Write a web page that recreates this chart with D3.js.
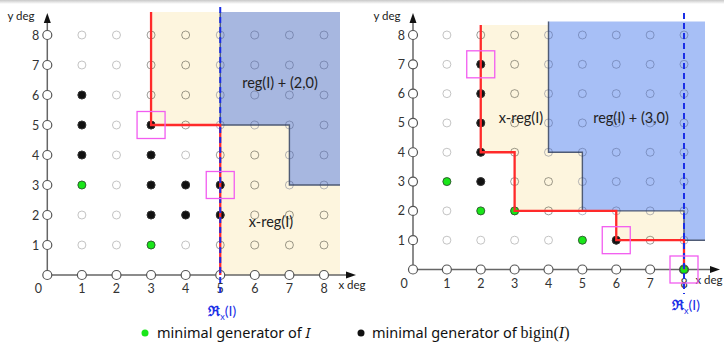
<!DOCTYPE html>
<html>
<head>
<meta charset="utf-8">
<script src="https://d3js.org/d3.v7.min.js"></script>
<style>
  body { margin: 0; background: #fff; }
  svg { display: block; font-family: Lato, "Noto Sans", sans-serif; }
</style>
</head>
<body>
<div id="chart"></div>
<script>
// tick labels of both degree axes
var degTicks = [0, 1, 2, 3, 4, 5, 6, 7, 8];

// left panel: ideal I, shift (2,0)
var leftGreen = [[1, 3], [3, 1]];
var leftBlack = [[1, 6], [1, 5], [1, 4], [3, 5], [3, 4], [3, 3], [3, 2], [4, 3], [4, 2], [5, 3], [5, 2]];
var leftRed = [[3, 5], [5, 5], [5, 0]];          // x-reg staircase
var leftBlue = [[5, 5], [7, 5], [7, 3]];         // reg(I)+(2,0) staircase
var leftBoxes = [[3, 5], [5, 3]];
var leftRx = 5;

// right panel: shift (3,0)
var rightGreen = [[1, 3], [2, 2], [3, 2], [5, 1], [8, 0]];
var rightBlack = [[2, 7], [2, 6], [2, 5], [2, 4], [2, 3], [6, 1]];
var rightRed = [[2, 4], [3, 4], [3, 2], [6, 2], [6, 1], [8, 1], [8, 0]];
var rightBlue = [[4, 4], [5, 4], [5, 2], [8, 2], [8, 1]];
var rightBoxes = [[2, 7], [6, 1], [8, 0]];
var rightRx = 8;

var W = 724, H = 343;
var svg = d3.select("#chart").append("svg").attr("width", W).attr("height", H);

// faint grey strip at the very top
var grad = svg.append("defs").append("linearGradient").attr("id", "topg")
  .attr("x1", 0).attr("x2", 0).attr("y1", 0).attr("y2", 1);
grad.append("stop").attr("offset", "0%").attr("stop-color", "#c8c8c8");
grad.append("stop").attr("offset", "100%").attr("stop-color", "#fff");
svg.append("rect").attr("width", W).attr("height", 4).attr("fill", "url(#topg)");

var panels = [
  { x: d3.scaleLinear().domain([0, 8]).range([47.3, 324]),
    y: d3.scaleLinear().domain([0, 8]).range([275, 35]),
    green: leftGreen, black: leftBlack, red: leftRed, blue: leftBlue, boxes: leftBoxes, rx: leftRx,
    yellowRight: 340, blueRight: 340, redTop: 12, blueTop: 12, yellowTop: 12, dashTop: 7,
    blueFill: "#a7b7e0", arrowX: 356, regLabel: "reg(I) + (2,0)", regPos: [280, 83], xregPos: [271, 222],
    ydegX: 21, xdegPos: [352, 289], rxLabelY: 316 },
  { x: d3.scaleLinear().domain([0, 8]).range([413, 684]),
    y: d3.scaleLinear().domain([0, 8]).range([269.5, 35]),
    green: rightGreen, black: rightBlack, red: rightRed, blue: rightBlue, boxes: rightBoxes, rx: rightRx,
    yellowRight: 684, blueRight: 705, redTop: 25, blueTop: 21.5, yellowTop: 25, dashTop: 13,
    blueFill: "#a7bff6", arrowX: 720, regLabel: "reg(I) + (3,0)", regPos: [631, 118], xregPos: [521, 118],
    ydegX: 387, xdegPos: [709, 284], rxLabelY: 310 }
];

function stairPoly(p, stairs, top, right) {
  var pts = [[p.x(stairs[0][0]), top]];
  stairs.forEach(function(s) { pts.push([p.x(s[0]), p.y(s[1])]); });
  var last = stairs[stairs.length - 1];
  pts.push([right, p.y(last[1])]);
  pts.push([right, top]);
  return pts;
}

function drawRx(g, cx, cy) {
  var t = g.append("text").attr("x", cx).attr("y", cy).attr("text-anchor", "middle")
    .attr("fill", "#1a2ee6").attr("font-size", 14).attr("font-weight", "bold");
  t.append("tspan").text("\u211C").style("font-family", "'DejaVu Serif', serif");
  t.append("tspan").text("x").attr("font-size", 9).attr("dy", 4).attr("font-weight", "normal");
  t.append("tspan").text("(I)").attr("dy", -4).attr("font-weight", "normal");
}

panels.forEach(function(p) {
  var g = svg.append("g");
  var x = p.x, y = p.y;
  var line = d3.line();

  // regions
  var yellowPoly = stairPoly(p, p.red, p.yellowTop, p.yellowRight);
  yellowPoly[yellowPoly.length - 2][1] = y(0);
  var bluePoly = stairPoly(p, p.blue, p.blueTop, p.blueRight);
  g.append("path").attr("d", line(yellowPoly) + "Z").attr("fill", "#fdf5de");
  g.append("path").attr("d", line(bluePoly) + "Z").attr("fill", p.blueFill);
  g.append("path").attr("d", line(bluePoly.slice(0, bluePoly.length - 1)))
    .attr("fill", "none").attr("stroke", "#4f5b75").attr("stroke-width", 1.4);

  // grid of monomials (inner points)
  var inner = [];
  degTicks.forEach(function(i) { degTicks.forEach(function(j) { if (i > 0 && j > 0) inner.push([i, j]); }); });
  g.selectAll(".pt").data(inner).enter().append("circle")
    .attr("cx", function(d) { return x(d[0]); })
    .attr("cy", function(d) { return y(d[1]); })
    .attr("r", 4)
    .attr("fill", "none")
    .attr("stroke", function(d) {
      var q = [x(d[0]) + 1, y(d[1]) - 1];
      if (d3.polygonContains(bluePoly, q)) return "rgba(50,60,100,0.35)";
      if (d3.polygonContains(yellowPoly, q)) return "rgba(40,40,30,0.45)";
      return "#c4c4c4";
    })
    .attr("stroke-width", 1);

  // axes
  g.append("line").attr("x1", x(0)).attr("x2", p.arrowX - 8).attr("y1", y(0)).attr("y2", y(0))
    .attr("stroke", "#666").attr("stroke-width", 1.5);
  g.append("line").attr("x1", x(0)).attr("x2", x(0)).attr("y1", y(0)).attr("y2", 22)
    .attr("stroke", "#666").attr("stroke-width", 1.5);
  g.append("path").attr("d", line([[p.arrowX, y(0)], [p.arrowX - 10, y(0) - 3.5], [p.arrowX - 10, y(0) + 3.5]]) + "Z")
    .attr("fill", "#111");
  g.append("path").attr("d", line([[x(0), 13], [x(0) - 3.5, 23], [x(0) + 3.5, 23]]) + "Z")
    .attr("fill", "#111");

  var axisPts = [];
  degTicks.forEach(function(i) { axisPts.push([i, 0]); if (i > 0) axisPts.push([0, i]); });
  g.selectAll(".ax").data(axisPts).enter().append("circle")
    .attr("cx", function(d) { return x(d[0]); })
    .attr("cy", function(d) { return y(d[1]); })
    .attr("r", 4.5).attr("fill", "#fff").attr("stroke", "#555").attr("stroke-width", 1.2);

  // tick labels
  g.selectAll(".xl").data(degTicks).enter().append("text")
    .attr("x", function(d) { return d === 0 ? x(d) - 9 : x(d); })
    .attr("y", y(0) + 18).attr("text-anchor", "middle").attr("font-size", 12.5).attr("fill", "#333")
    .text(function(d) { return d; });
  g.selectAll(".yl").data(degTicks.slice(1)).enter().append("text")
    .attr("x", x(0) - 8).attr("y", function(d) { return y(d) + 4.5; })
    .attr("text-anchor", "end").attr("font-size", 12.5).attr("fill", "#333")
    .text(function(d) { return d; });
  g.append("text").attr("x", p.ydegX).attr("y", 20).attr("text-anchor", "middle")
    .attr("font-size", 11.5).attr("fill", "#222").text("y deg");
  g.append("text").attr("x", p.xdegPos[0]).attr("y", p.xdegPos[1]).attr("text-anchor", "middle")
    .attr("font-size", 11.5).attr("fill", "#222").text("x deg");

  // generators
  g.selectAll(".bk").data(p.black).enter().append("circle")
    .attr("cx", function(d) { return x(d[0]); }).attr("cy", function(d) { return y(d[1]); })
    .attr("r", 4).attr("fill", "#111").attr("stroke", "#333");
  g.selectAll(".gr").data(p.green).enter().append("circle")
    .attr("cx", function(d) { return x(d[0]); }).attr("cy", function(d) { return y(d[1]); })
    .attr("r", 4).attr("fill", "#19e619").attr("stroke", "#2a4a2a").attr("stroke-width", 0.8);

  // red staircase
  var redPts = [[x(p.red[0][0]), p.redTop]].concat(p.red.map(function(s) { return [x(s[0]), y(s[1])]; }));
  g.append("path").attr("d", line(redPts)).attr("fill", "none")
    .attr("stroke", "#ff2a2a").attr("stroke-width", 2.3);

  // regularity dashed line
  g.append("line").attr("x1", x(p.rx)).attr("x2", x(p.rx)).attr("y1", p.dashTop).attr("y2", 294)
    .attr("stroke", "#1a2ee6").attr("stroke-width", 2).attr("stroke-dasharray", "6,4");
  drawRx(g, x(p.rx) + 2, p.rxLabelY);

  // magenta boxes
  g.selectAll(".bx").data(p.boxes).enter().append("rect")
    .attr("x", function(d) { return x(d[0]) - 14; }).attr("y", function(d) { return y(d[1]) - 13.5; })
    .attr("width", 28).attr("height", 27).attr("fill", "none")
    .attr("stroke", "#f25cf0").attr("stroke-width", 1.3);

  // region labels
  g.append("text").attr("x", p.regPos[0]).attr("y", p.regPos[1] + 5).attr("text-anchor", "middle")
    .attr("font-size", 14.5).attr("fill", "#222").text(p.regLabel);
  g.append("text").attr("x", p.xregPos[0]).attr("y", p.xregPos[1] + 5).attr("text-anchor", "middle")
    .attr("font-size", 14.5).attr("fill", "#222").text("x-reg(I)");
});

// legend
var lg = svg.append("g").attr("fill", "#111");
lg.append("circle").attr("cx", 145).attr("cy", 333).attr("r", 3.5).attr("fill", "#19e619");
var t1 = lg.append("text").attr("x", 157).attr("y", 338)
  .style("font-family", "'Noto Sans', sans-serif").style("font-size", "14.5px");
t1.append("tspan").text("minimal generator of ");
t1.append("tspan").text("I").attr("font-style", "italic");
lg.append("circle").attr("cx", 361).attr("cy", 333).attr("r", 3.5).attr("fill", "#111");
var t2 = lg.append("text").attr("x", 372).attr("y", 338)
  .style("font-family", "'Noto Sans', sans-serif").style("font-size", "14.5px");
t2.append("tspan").text("minimal generator of ");
t2.append("tspan").text("bigin(").style("font-family", "'Liberation Serif', serif").style("font-size", "16px");
t2.append("tspan").text("I").attr("font-style", "italic").style("font-family", "'Liberation Serif', serif").style("font-size", "16px");
t2.append("tspan").text(")").style("font-family", "'Liberation Serif', serif").style("font-size", "16px");
</script>
</body>
</html>
